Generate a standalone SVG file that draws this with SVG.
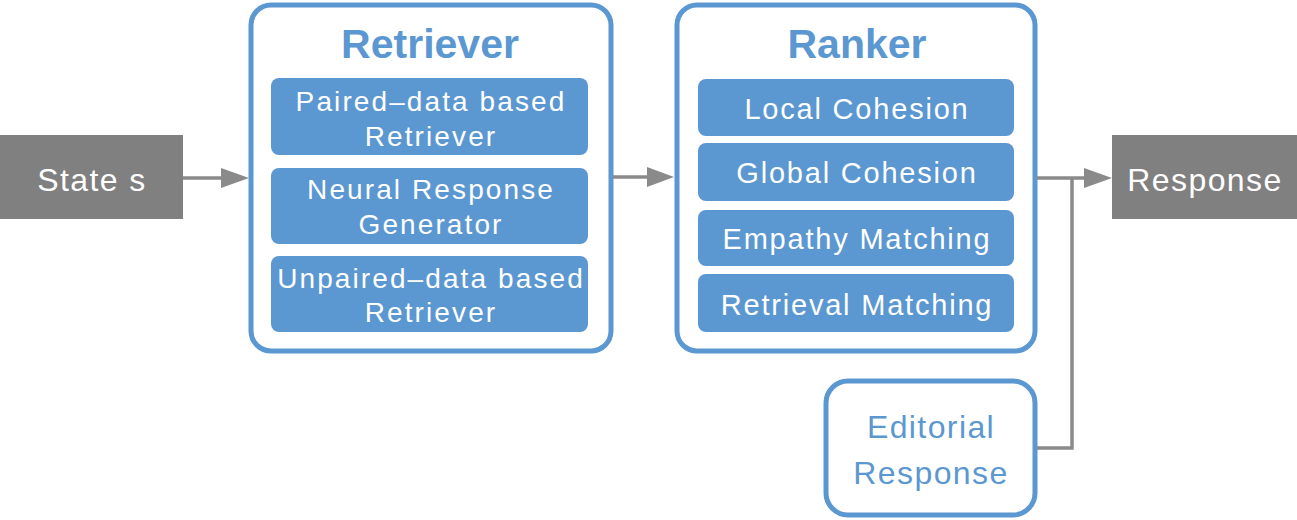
<svg xmlns="http://www.w3.org/2000/svg" width="1297" height="520" viewBox="0 0 1297 520">
<style>
.outer{fill:#ffffff;stroke:#5b97d1;stroke-width:5}
.inner{fill:#5b97d1}
.gray{fill:#808080}
.title{font-family:"Liberation Sans",Arial,sans-serif;font-weight:bold;font-size:41px;fill:#5b97d1;text-anchor:middle}
.rt{font-family:"Liberation Sans",Arial,sans-serif;font-size:28px;fill:#ffffff;text-anchor:middle;letter-spacing:2.1px}
.rk{font-family:"Liberation Sans",Arial,sans-serif;font-size:29px;fill:#ffffff;text-anchor:middle;letter-spacing:1.8px}
.gt{font-family:"Liberation Sans",Arial,sans-serif;font-size:32px;fill:#ffffff;text-anchor:middle;letter-spacing:1.4px}
.et{font-family:"Liberation Sans",Arial,sans-serif;font-size:32px;fill:#5b97d1;text-anchor:middle;letter-spacing:1.4px}
.conn{fill:none;stroke:#8a8a8a;stroke-width:3.5}
.head{fill:#8a8a8a}
</style>
<g id="state">
<rect class="gray" x="0" y="135" width="183" height="84"/>
<text class="gt" x="92" y="191">State s</text>
</g>
<g id="retriever">
<rect class="outer" x="251" y="5" width="360" height="346" rx="20"/>
<text class="title" x="430" y="58">Retriever</text>
<rect class="inner" x="271" y="78" width="317" height="77" rx="8"/>
<text class="rt" x="431" y="111">Paired–data based</text>
<text class="rt" x="431" y="146">Retriever</text>
<rect class="inner" x="271" y="168" width="317" height="76" rx="8"/>
<text class="rt" x="431" y="199">Neural Response</text>
<text class="rt" x="431" y="234">Generator</text>
<rect class="inner" x="271" y="256" width="317" height="76" rx="8"/>
<text class="rt" x="431" y="288">Unpaired–data based</text>
<text class="rt" x="431" y="322">Retriever</text>
</g>
<g id="ranker">
<rect class="outer" x="677" y="5" width="358" height="346" rx="20"/>
<text class="title" x="857" y="58">Ranker</text>
<rect class="inner" x="698" y="79" width="316" height="57" rx="8"/>
<text class="rk" x="857" y="119">Local Cohesion</text>
<rect class="inner" x="698" y="143" width="316" height="58" rx="8"/>
<text class="rk" x="857" y="183">Global Cohesion</text>
<rect class="inner" x="698" y="210" width="316" height="56" rx="8"/>
<text class="rk" x="857" y="249">Empathy Matching</text>
<rect class="inner" x="698" y="274" width="316" height="58" rx="8"/>
<text class="rk" x="857" y="315">Retrieval Matching</text>
</g>
<g id="editorial">
<rect class="outer" x="826" y="381" width="209" height="134" rx="22"/>
<text class="et" x="931" y="438">Editorial</text>
<text class="et" x="931" y="484">Response</text>
</g>
<g id="response">
<rect class="gray" x="1112" y="135" width="185" height="84"/>
<text class="gt" x="1205" y="191">Response</text>
</g>
<g id="connectors">
<line class="conn" x1="183" y1="178" x2="223" y2="178"/>
<polygon class="head" points="221,168 249,178 221,188"/>
<line class="conn" x1="613" y1="177" x2="649" y2="177"/>
<polygon class="head" points="647,167 674,177 647,187"/>
<line class="conn" x1="1037" y1="178" x2="1086" y2="178"/>
<polygon class="head" points="1084,168 1112,178 1084,188"/>
<polyline class="conn" points="1037,448 1072,448 1072,178"/>
</g>
</svg>
